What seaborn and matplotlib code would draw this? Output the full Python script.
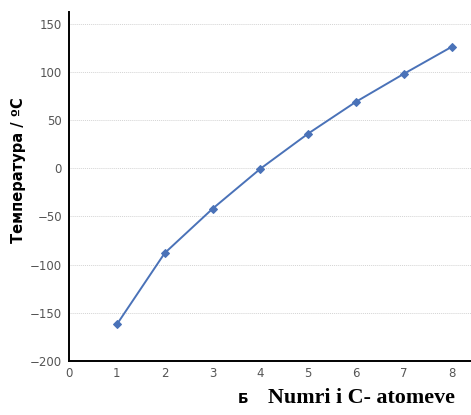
import seaborn as sns
import pandas as pd
import matplotlib.pyplot as plt

# boiling points of the first alkanes
carbon_atoms = [1, 2, 3, 4, 5, 6, 7, 8]
temperature = [-162, -88, -42, -0.5, 36, 69, 98, 126]
x_ticks = [0, 1, 2, 3, 4, 5, 6, 7, 8]
y_ticks = [-200, -150, -100, -50, 0, 50, 100, 150]

df = pd.DataFrame({"atoms": carbon_atoms, "temp": temperature})

sns.set_style("white")
plt.rcParams['font.family'] = ['DejaVu Sans']

fig = plt.figure(figsize=(4.71, 4.15), dpi=100)
ax = fig.add_axes([0.1465, 0.130, 0.8535, 0.841])

sns.lineplot(data=df, x="atoms", y="temp", ax=ax, color="#4a72b8",
             linewidth=1.4, marker="D", markersize=4.5,
             markeredgecolor="#4a72b8")

ax.set_xlim(0, 8.4)
ax.set_ylim(-200, 162)
ax.set_xticks(x_ticks)
ax.set_yticks(y_ticks)
ax.set_yticklabels([str(v).replace("-", "\u2212") for v in y_ticks])

ax.grid(axis="y", color="#d4d4d4", linestyle=(0, (1, 1)), linewidth=0.7)
ax.set_axisbelow(True)

for s in ["top", "right"]:
    ax.spines[s].set_visible(False)
for s in ["left", "bottom"]:
    ax.spines[s].set_color("black")
    ax.spines[s].set_linewidth(1.4)

ax.tick_params(axis="x", direction="in", length=4, width=1, colors="black",
               labelcolor="#555555", labelsize=8.5, pad=4)
ax.tick_params(axis="y", direction="out", length=3, width=1, colors="black",
               labelcolor="#555555", labelsize=8.5, pad=2)

ax.set_xlabel("")
ax.set_ylabel("Температура / ºC", fontsize=10.5, fontweight="bold",
              color="black")
ax.yaxis.set_label_coords(-0.108, 0.547)

fig.text(0.505, 0.028, "Б", fontsize=10, fontweight="bold", ha="left",
         va="baseline", color="black")
fig.text(0.570, 0.028, "Numri i C- atomeve", fontsize=15.8, fontweight="bold",
         family="Liberation Serif", ha="left", va="baseline", color="black")

fig.savefig("out.png", dpi=100)
